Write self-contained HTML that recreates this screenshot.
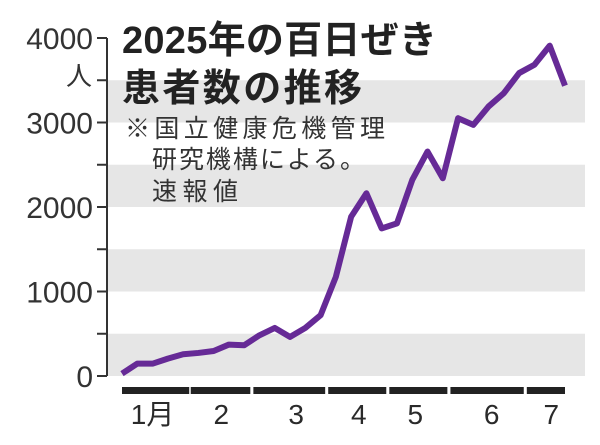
<!DOCTYPE html>
<html><head><meta charset="utf-8"><style>
html,body{margin:0;padding:0;background:#fff;}
svg{display:block;font-family:"Liberation Sans","Noto Sans CJK JP",sans-serif;}
</style></head><body>
<svg id="chart" width="600" height="445" viewBox="0 0 600 445" xmlns="http://www.w3.org/2000/svg">
<g id="bands"></g>
<g id="yaxis"></g>
<g id="xaxis"></g>
<text x="122" y="53" font-size="38" font-weight="bold" fill="#222" textLength="315">2025年の百日ぜき</text>
<text x="122" y="101" font-size="38" font-weight="bold" fill="#222" textLength="240">患者数の推移</text>
<text x="125" y="137" font-size="25" fill="#333" textLength="260">※国立健康危機管理</text>
<text x="152" y="168" font-size="25" fill="#333" textLength="213">研究機構による。</text>
<text x="152" y="200" font-size="25" fill="#333" textLength="86">速報値</text>
<g id="series"></g>
</svg>
<script>
const yTicks = [0, 1000, 2000, 3000, 4000];
const bandRanges = [[0,500],[1000,1500],[2000,2500],[3000,3500]];
const monthLabels = ["1月","2","3","4","5","6","7"];
const monthStarts = [0, 4.5, 8.6, 13.5, 17.5, 21.5, 26.5];
const monthEnds = [4.4, 8.4, 13.3, 17.3, 21.3, 26.3, 29];
const monthLabelPos = [2, 6.5, 11.4, 15.5, 19.2, 24.2, 28.1];
const weekIndex = [0,1,2,3,4,5,6,7,8,9,10,11,12,13,14,15,16,17,18,19,20,21,22,23,24,25,26,27,28,29];
const patients = [28,146,146,206,257,273,296,372,364,482,569,462,569,719,1174,1885,2162,1747,1806,2320,2656,2340,3051,2972,3190,3348,3585,3684,3909,3435];

const NS="http://www.w3.org/2000/svg";
const y0=376, yTop=38;
function y(v){return y0-(v/4000)*(y0-yTop);}
function x(i){return 122+(i/29)*(565-122);}
function mk(tag,attrs,parent){const e=document.createElementNS(NS,tag);for(const k in attrs)e.setAttribute(k,attrs[k]);parent.appendChild(e);return e;}

const bands=document.getElementById('bands');
bandRanges.forEach(r=>{
  const e=mk('rect',{x:107,y:y(r[1]),width:478,height:y(r[0])-y(r[1]),fill:'#e6e6e6'},bands);
  
  
});

const ya=document.getElementById('yaxis');
const axl=mk('line',{x1:107,x2:107,y1:y(4000),y2:y(0),stroke:'#333','stroke-width':2},ya);


for(let v=0;v<=4000;v+=500){
  const t=mk('line',{x1:97,x2:107,y1:y(v),y2:y(v),stroke:'#333','stroke-width':2},ya);
  
  
}
yTicks.forEach(v=>{
  const t=mk('text',{x:93,y:y(v)+11,'font-size':30,'text-anchor':'end',fill:'#333'},ya);
  t.textContent=String(v);
  
  
});
const unit=mk('text',{x:92,y:85,'font-size':26,'text-anchor':'end',fill:'#333'},ya);
unit.textContent='人';



const xa=document.getElementById('xaxis');
monthStarts.forEach((s,i)=>{
  const b=mk('rect',{x:x(s),y:387,width:x(monthEnds[i])-x(s),height:7,fill:'#222'},xa);
  
  
  const t=mk('text',{x:x(monthLabelPos[i]),y:424,'font-size':28,'text-anchor':'middle',fill:'#2a2a2a'},xa);
  t.textContent=monthLabels[i];
  
  
});

const sg=document.getElementById('series');
const pts=weekIndex.map((w,i)=>x(w)+','+y(patients[i])).join(' ');
const pl=mk('polyline',{points:pts,fill:'none',stroke:'#662a96','stroke-width':6,'stroke-linejoin':'round','stroke-linecap':'butt'},sg);


</script>
</body></html>
